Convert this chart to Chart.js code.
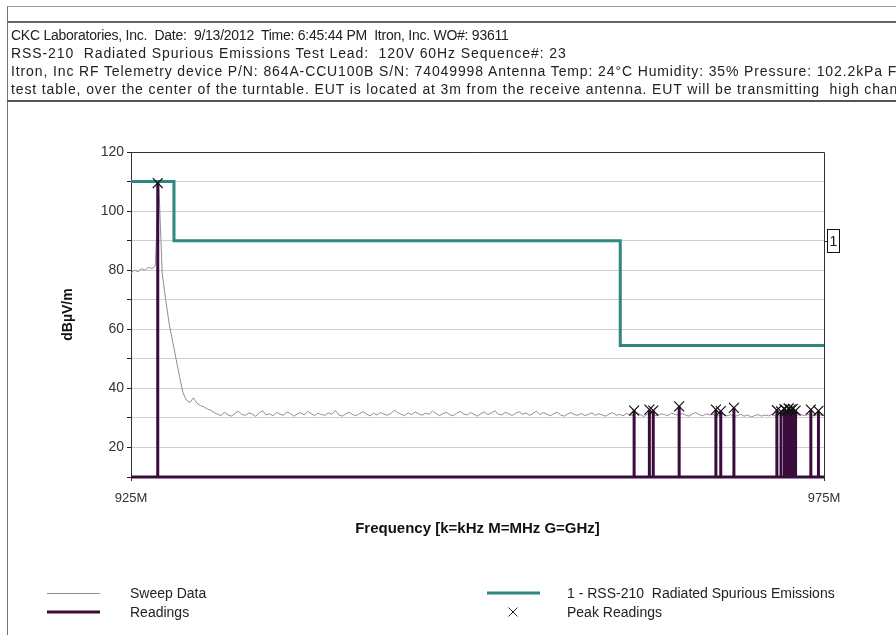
<!DOCTYPE html>
<html>
<head>
<meta charset="utf-8">
<script src="https://cdn.jsdelivr.net/npm/chart.js@4.4.0/dist/chart.umd.min.js"></script>
<style>
  html, body { margin: 0; padding: 0; background: #fff; overflow: hidden; }
  #wrap { position: relative; width: 896px; height: 635px; }
  #frame { position: absolute; left: 7px; top: 6px; width: 900px; height: 700px; border-left: 1px solid #777; border-top: 1px solid #999; }
  #header { position: absolute; left: 7px; top: 21px; width: 900px; height: 77px; border-top: 2px solid #666; border-bottom: 2px solid #555;
    font-family: "Liberation Sans", Arial, sans-serif; font-size: 14px; color: #222; white-space: nowrap; overflow: hidden; }
  #header div { height: 18px; line-height: 18px; padding-left: 4px; }
  #header .l1 { margin-top: 3px; letter-spacing: -0.25px; }
  #header .l2 { letter-spacing: 0.9px; }
  #header .l3, #header .l4 { letter-spacing: 0.88px; }
  canvas { position: absolute; left: 0; top: 0; }
</style>
</head>
<body>
<div id="wrap">
  <canvas id="chart" width="896" height="635"></canvas>
  <div id="frame"></div>
  <div id="header">
    <div class="l1">CKC Laboratories, Inc.&nbsp; Date:&nbsp; 9/13/2012&nbsp; Time: 6:45:44 PM&nbsp; Itron, Inc. WO#: 93611</div>
    <div class="l2">RSS-210&nbsp; Radiated Spurious Emissions Test Lead:&nbsp; 120V 60Hz Sequence#: 23</div>
    <div class="l3">Itron, Inc RF Telemetry device P/N: 864A-CCU100B S/N: 74049998 Antenna Temp: 24°C Humidity: 35% Pressure: 102.2kPa F</div>
    <div class="l4">test table, over the center of the turntable. EUT is located at 3m from the receive antenna. EUT will be transmitting&nbsp; high chan</div>
  </div>
</div>
<script>
// sweep: spectrum analyzer trace, one value every 0.25 MHz starting at 925 MHz
const sweepStart = 925;
const sweepStep = 0.25;
const sweepLevel = [
  79, 80, 79.5, 80.5, 80, 81, 80.5, 81.5, 110, 79, 70, 62, 56, 50, 44, 38.5,
  36, 35.2, 36.8, 35, 34.2, 33.8, 33, 32.6, 31.8,
  31.2, 30.8, 31.9, 31.0, 30.6, 31.5, 32.3, 31.1, 30.9, 31.7, 31.3, 30.5, 31.8, 32.4, 31.0, 31.4,
  30.7, 31.9, 31.2, 30.9, 32.0, 31.5, 30.6, 31.3, 31.8, 31.0, 32.2, 31.4, 30.8, 31.6, 31.1, 30.9,
  31.7, 31.2, 32.5, 31.0, 30.6, 31.4, 31.9, 31.1, 30.8, 31.5, 32.1, 31.3, 30.7, 31.6, 31.0, 31.8,
  31.3, 30.9, 31.5, 32.6, 31.8, 31.2, 30.8, 31.7, 31.1, 32.0, 31.4, 30.9, 31.6, 31.2, 32.3, 31.5,
  30.8, 31.4, 31.9, 31.1, 30.7, 31.6, 32.2, 31.3, 31.0, 31.8, 31.2, 30.6, 31.5, 32.0, 31.1, 31.7,
  32.4, 31.3, 31.0, 31.9, 31.4, 30.8, 31.6, 32.1, 31.2, 31.7, 30.9, 31.5, 32.3, 31.1, 31.8, 31.3,
  30.7, 31.4, 31.9, 31.0, 30.6, 31.3, 31.8, 31.1, 30.9, 31.5, 30.8, 31.2, 31.7, 30.9, 31.4, 31.0,
  30.6, 31.3, 31.8, 30.9, 31.2, 30.7, 31.5, 31.0, 30.8, 31.6, 31.1, 30.5, 31.3, 31.9, 31.0, 30.7,
  31.4, 31.1, 30.8, 31.6, 31.2, 30.9, 31.5, 31.0, 30.6, 31.3, 31.8, 31.1, 30.7, 31.4, 31.0, 31.2,
  30.5, 30.9, 31.3, 30.7, 31.1, 30.4, 30.8, 31.2, 30.6, 31.0, 30.3, 30.8, 31.1, 30.6, 31.0, 30.7,
  31.2, 30.6, 31.0, 30.8, 31.4, 30.9, 31.1, 30.7, 31.3, 30.8, 31.0, 31.2, 30.7, 31.1, 30.9, 31.0
];

// readings (peaks) in MHz / dBuV/m
const readingFreq = [926.93, 961.3, 962.4, 962.68, 964.55, 967.2, 967.55, 968.5, 971.6, 971.9, 972.15, 972.3, 972.45, 972.6, 972.75, 972.95, 974.05, 974.6];
const readingLevel = [109.5, 32.5, 32.8, 32.5, 33.9, 32.8, 32.3, 33.4, 32.6, 32.2, 33.0, 32.4, 33.2, 32.8, 33.1, 32.5, 32.8, 32.4];

// limit 1 - RSS-210 (stepped)
const limitFreq = [925, 928.1, 960.3, 975];
const limitLevel = [110, 90, 54.5, 54.5];

const xMin = 925, xMax = 975;
const yMin = 10, yMax = 120;
const yLabels = [20, 40, 60, 80, 100, 120];

const FONT = '"Liberation Sans", Arial, sans-serif';
const SWEEP_COLOR = '#8f8f8f';
const READING_COLOR = '#3a0c3c';
const LIMIT_COLOR = '#2f8782';

let chartInstance = null;

document.addEventListener("DOMContentLoaded", () => {
  createChart();
});

function buildSweep() {
  return sweepLevel.map((v, i) => ({ x: sweepStart + i * sweepStep, y: v }));
}

function buildReadings() {
  const pts = [{ x: xMin, y: yMin }];
  readingFreq.forEach((f, i) => {
    pts.push({ x: f, y: yMin }, { x: f, y: readingLevel[i] }, { x: f, y: yMin });
  });
  pts.push({ x: xMax, y: yMin });
  return pts;
}

// border of the plot, the "1" tag and the legend at the bottom
const extrasPlugin = {
  id: 'extras',
  afterDraw(chart) {
    const ctx = chart.ctx;
    const a = chart.chartArea;
    const yScale = chart.scales.y;
    ctx.save();

    ctx.strokeStyle = '#333';
    ctx.lineWidth = 1;
    ctx.beginPath();
    ctx.moveTo(a.left, a.top + 0.5);
    ctx.lineTo(a.right + 0.5, a.top + 0.5);
    ctx.lineTo(a.right + 0.5, a.bottom);
    ctx.stroke();

    // limit tag
    const ty = Math.round(yScale.getPixelForValue(90));
    ctx.beginPath();
    ctx.moveTo(a.right, ty + 0.5);
    ctx.lineTo(a.right + 3, ty + 0.5);
    ctx.stroke();
    ctx.strokeStyle = '#111';
    ctx.strokeRect(a.right + 3.5, ty - 11.5, 12, 23);
    ctx.fillStyle = '#111';
    ctx.font = '14px ' + FONT;
    ctx.textAlign = 'center';
    ctx.textBaseline = 'middle';
    ctx.fillText('1', a.right + 9.5, ty + 1);

    // legend
    ctx.textAlign = 'left';
    ctx.font = '14px ' + FONT;
    ctx.fillStyle = '#222';
    ctx.lineCap = 'butt';

    ctx.strokeStyle = SWEEP_COLOR;
    ctx.lineWidth = 1;
    ctx.beginPath(); ctx.moveTo(47, 593.5); ctx.lineTo(100, 593.5); ctx.stroke();
    ctx.fillText('Sweep Data', 130, 594);

    ctx.strokeStyle = READING_COLOR;
    ctx.lineWidth = 3;
    ctx.beginPath(); ctx.moveTo(47, 612); ctx.lineTo(100, 612); ctx.stroke();
    ctx.fillText('Readings', 130, 613);

    ctx.strokeStyle = LIMIT_COLOR;
    ctx.lineWidth = 3;
    ctx.beginPath(); ctx.moveTo(487, 593); ctx.lineTo(540, 593); ctx.stroke();
    ctx.fillText('1 - RSS-210  Radiated Spurious Emissions', 567, 594);

    ctx.strokeStyle = '#222';
    ctx.lineWidth = 1;
    ctx.beginPath();
    ctx.moveTo(508.5, 607.5); ctx.lineTo(517.5, 616.5);
    ctx.moveTo(517.5, 607.5); ctx.lineTo(508.5, 616.5);
    ctx.stroke();
    ctx.fillText('Peak Readings', 567, 613);

    ctx.restore();
  }
};

function createChart() {
  const chartCanvas = document.getElementById('chart');
  if (!chartCanvas || !chartCanvas.getContext) return;
  const ctx = chartCanvas.getContext('2d');

  if (chartInstance) chartInstance.destroy();

  chartInstance = new Chart(ctx, {
    type: 'line',
    data: {
      datasets: [
        {
          label: 'Peak Readings',
          data: readingFreq.map((f, i) => ({ x: f, y: readingLevel[i] })),
          showLine: false,
          pointStyle: 'crossRot',
          pointRadius: 7,
          pointBorderWidth: 1.2,
          pointBorderColor: '#111',
          order: 0
        },
        {
          label: 'Readings',
          data: buildReadings(),
          borderColor: READING_COLOR,
          borderWidth: 3,
          pointRadius: 0,
          clip: 4,
          order: 1
        },
        {
          label: '1 - RSS-210  Radiated Spurious Emissions',
          data: limitFreq.map((f, i) => ({ x: f, y: limitLevel[i] })),
          borderColor: LIMIT_COLOR,
          borderWidth: 3,
          stepped: 'before',
          pointRadius: 0,
          order: 2
        },
        {
          label: 'Sweep Data',
          data: buildSweep(),
          borderColor: SWEEP_COLOR,
          borderWidth: 1,
          pointRadius: 0,
          order: 3
        }
      ]
    },
    options: {
      responsive: false,
      animation: false,
      devicePixelRatio: 1,
      layout: { padding: { left: 60, top: 152, right: 72, bottom: 97 } },
      scales: {
        x: {
          type: 'linear',
          min: xMin,
          max: xMax,
          afterBuildTicks: (scale) => { scale.ticks = [{ value: xMin }, { value: xMax }]; },
          afterFit: (scale) => { scale.height = 61; },
          ticks: {
            color: '#333',
            font: { family: FONT, size: 13 },
            padding: 10,
            maxRotation: 0,
            callback: (v) => v + 'M'
          },
          grid: { display: true, drawOnChartArea: false, tickLength: 4, tickColor: '#333' },
          border: { color: '#333', width: 1 },
          title: {
            display: true,
            text: 'Frequency [k=kHz M=MHz G=GHz]',
            color: '#111',
            font: { family: FONT, size: 15, weight: 'bold' },
            padding: { top: 10, bottom: 0 }
          }
        },
        y: {
          min: yMin,
          max: yMax,
          afterFit: (scale) => { scale.width = 131 - 60; },
          ticks: {
            stepSize: 10,
            color: '#333',
            font: { family: FONT, size: 14 },
            padding: 3,
            callback: (v) => yLabels.includes(v) ? String(v) : ''
          },
          grid: { color: '#cfcfcf', tickLength: 4, tickColor: '#222' },
          border: { color: '#333', width: 1 },
          title: {
            display: true,
            text: 'dBµV/m',
            color: '#111',
            font: { family: FONT, size: 14, weight: 'bold' },
            padding: { top: 0, bottom: 8 }
          }
        }
      },
      plugins: {
        legend: { display: false },
        tooltip: { enabled: false }
      }
    },
    plugins: [extrasPlugin]
  });
}
</script>
</body>
</html>
